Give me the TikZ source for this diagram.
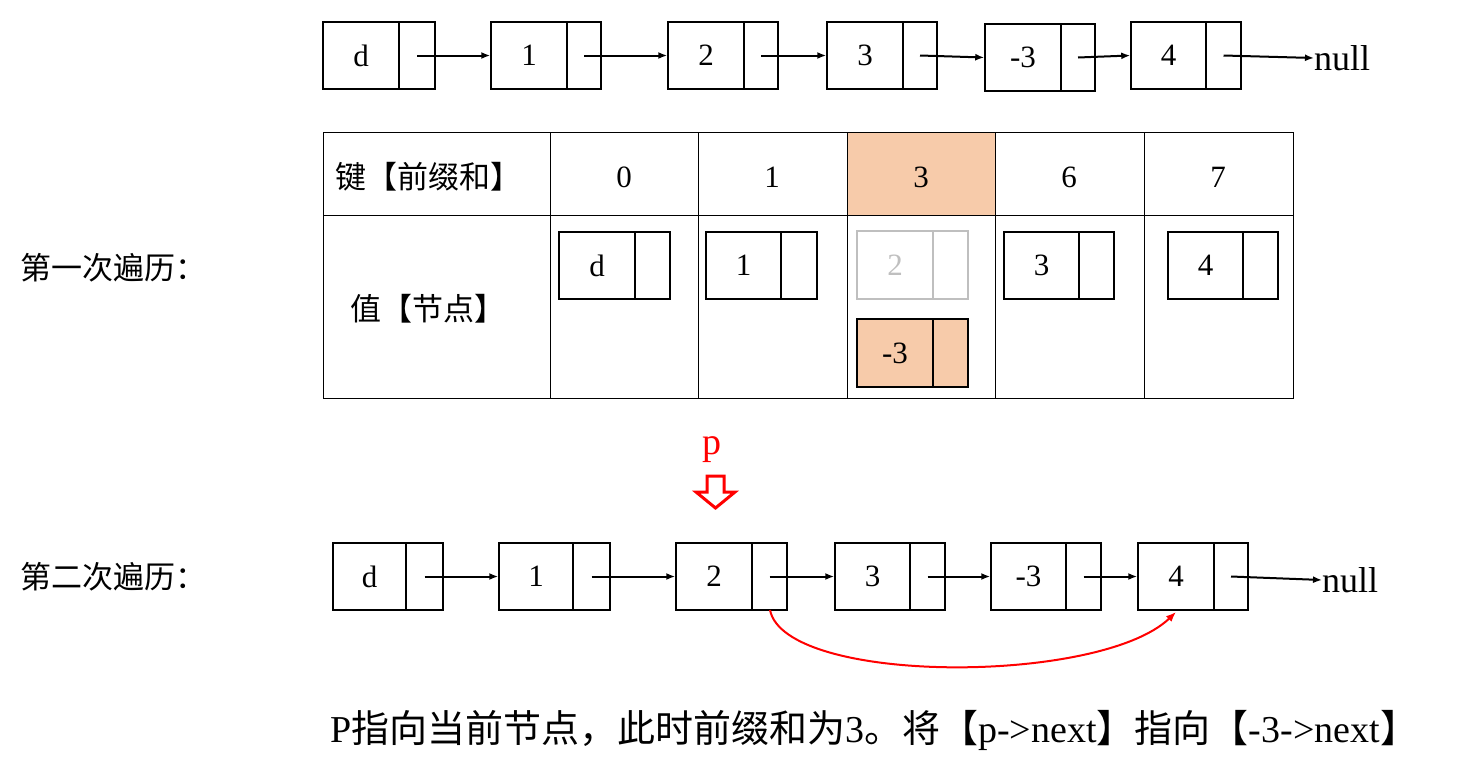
\documentclass[tikz,border=0pt]{standalone}
\usepackage{fontspec}
\setmainfont{Liberation Serif}
\newfontfamily\cjk{Noto Sans CJK SC}
\usetikzlibrary{arrows.meta,calc}
\definecolor{peach}{HTML}{F7CBAA}
\tikzset{
  lk/.style={draw,line width=1.5pt,inner sep=0pt},
  arr/.style={-{Latex[length=9pt,width=7pt]},line width=2pt},
  txt/.style={font=\fontsize{31}{33}\selectfont,inner sep=0pt},
  nul/.style={font=\fontsize{36}{38}\selectfont,inner sep=0pt,anchor=west},
}
% \lnode{name}{x1}{y1}{x2}{y2}{div}{text}{options}
\newcommand{\lnode}[8]{%
  \node[lk,#8,minimum width={#4-#2},minimum height={#5-#3}] (#1) at ({(#2+#4)/2},{(#3+#5)/2}) {};
  \draw[line width=1.5pt,#8] (#6,#3) -- (#6,#5);
  \node[txt,#8,draw=none,fill=none] (#1-t) at ({(#2+#6)/2},{(#3+#5)/2}) {#7};
  \coordinate (#1-p) at ({(#6+#4)/2},{(#3+#5)/2});
}
\begin{document}
\begin{tikzpicture}[x=1pt,y=-1pt]
\useasboundingbox (0,0) rectangle (1464,771);
% top list
\lnode{a1}{323}{22}{435}{89}{399}{d}{}
\lnode{a2}{491}{22}{601}{89}{567}{1}{}
\lnode{a3}{668}{22}{778}{89}{744}{2}{}
\lnode{a4}{827}{22}{937}{89}{903}{3}{}
\lnode{a5}{985}{24}{1095}{91}{1061}{-3}{}
\lnode{a6}{1131}{22}{1241}{89}{1206}{4}{}
\node[nul] (an) at (1314,58) {null};
\draw[arr] (a1-p) -- (a2.west);
\draw[arr] (a2-p) -- (a3.west);
\draw[arr] (a3-p) -- (a4.west);
\draw[arr] (a4-p) -- (a5.west);
\draw[arr] (a5-p) -- (a6.west);
\draw[arr] (a6-p) -- (an.west);
% table
\fill[peach] (847,132) rectangle (995,215);
\draw[line width=1pt] (323,132) rectangle (1293,398);
\draw[line width=1pt] (323,215) -- (1293,215);
\foreach \x in {550,698,847,995,1144} \draw[line width=1pt] (\x,132) -- (\x,398);
\node[txt] (k0) at (428,177) {\cjk 键【前缀和】};
\node[txt] (k1) at (624,177) {0};
\node[txt] (k2) at (772,177) {1};
\node[txt] (k3) at (921,177) {3};
\node[txt] (k4) at (1069,177) {6};
\node[txt] (k5) at (1218,177) {7};
\node[txt] (v0) at (428,309) {\cjk 值【节点】};
\lnode{b1}{559}{232}{670}{299}{635}{d}{}
\lnode{b2}{706}{232}{817}{299}{781}{1}{}
\lnode{b3}{857}{231}{968}{299}{933}{2}{draw=black!25,text=black!25}
\lnode{b4}{857}{319}{968}{387}{933}{-3}{fill=peach}
\lnode{b5}{1004}{232}{1114}{299}{1079}{3}{}
\lnode{b6}{1168}{232}{1278}{299}{1243}{4}{}
\node[txt,anchor=west] (l1) at (20,268) {\cjk 第一次遍历：};
\node[txt,anchor=west] (l2) at (20,577) {\cjk 第二次遍历：};
% pointer p
\node[txt,red,font=\fontsize{38}{40}\selectfont] (p) at (712,450) {p};
\draw[red,line width=3pt,line join=miter] (707,476) -- (724,476) -- (724,492) -- (735,492) -- (715.5,508) -- (696,492) -- (707,492) -- cycle;
% bottom list
\lnode{c1}{333}{543}{443}{610}{406}{d}{}
\lnode{c2}{499}{543}{610}{610}{573}{1}{}
\lnode{c3}{676}{543}{787}{610}{752}{2}{}
\lnode{c4}{835}{543}{945}{610}{910}{3}{}
\lnode{c5}{991}{543}{1101}{610}{1066}{-3}{}
\lnode{c6}{1138}{543}{1248}{610}{1214}{4}{}
\node[nul] (cn) at (1322,580) {null};
\draw[arr] (c1-p) -- (c2.west);
\draw[arr] (c2-p) -- (c3.west);
\draw[arr] (c3-p) -- (c4.west);
\draw[arr] (c4-p) -- (c5.west);
\draw[arr] (c5-p) -- (c6.west);
\draw[arr] (c6-p) -- (cn.west);
\coordinate (r1) at (770,610);
\coordinate (r2) at (1176,612);
\draw[red,line width=2pt,-{Latex[length=10pt,width=8pt]}] (r1) .. controls (785,685) and (1100,685) .. (r2);
\node[txt,anchor=west,font=\fontsize{38}{40}\selectfont] (bt) at (330,730) {P\cjk 指向当前节点，此时前缀和为\rmfamily 3\cjk 。将【\rmfamily p->next\cjk 】指向【\rmfamily -3->next\cjk 】};
\end{tikzpicture}
\end{document}
